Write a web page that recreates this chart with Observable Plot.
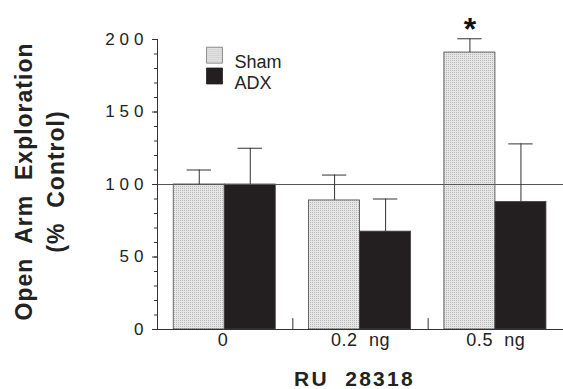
<!DOCTYPE html>
<html>
<head>
<meta charset="utf-8">
<script src="https://cdn.jsdelivr.net/npm/d3@7"></script>
<script src="https://cdn.jsdelivr.net/npm/@observablehq/plot@0.6"></script>
<style>
  html, body { margin: 0; padding: 0; background: #fff; }
  svg text { white-space: pre; }
</style>
</head>
<body>
<div id="chart"></div>
<script>
// ---- data ----
const doses = ["0", "0.2  ng", "0.5  ng"];
const groups = ["Sham", "ADX"];
const shamMean = [100, 89, 191];
const shamSem = [10, 17.5, 9.5];
const adxMean = [100, 67.5, 88];
const adxSem = [25, 22.5, 40];
const shamStar = ["", "", "*"];
const adxStar = ["", "", ""];
const yMajorTicks = [0, 50, 100, 150, 200];
const yMinorTicks = d3.range(0, 201, 10);
const controlLevel = [100];
const xTitle = "RU  28318";
const yTitle = "Open  Arm  Exploration\n(%  Control)";

// ---- layout constants (group-relative) ----
const groupPad = 0.12, barW = 0.377, capHalf = 0.09;
const fills = { Sham: "url(#stipple)", ADX: "#231f20" };
const FONT = "'Liberation Sans', Arial, Helvetica, sans-serif";

const rows = [];
doses.forEach((dose, i) => {
  [[shamMean, shamSem, shamStar], [adxMean, adxSem, adxStar]].forEach(([m, s, st], j) => {
    const x1 = i + groupPad + j * barW;
    rows.push({ dose, i, group: groups[j], mean: m[i], sem: s[i], star: st[i],
      x1, x2: x1 + barW, xc: x1 + barW / 2 });
  });
});

const plot = Plot.plot({
  width: 563, height: 389,
  marginLeft: 157, marginRight: 0, marginTop: 39, marginBottom: 60,
  x: { type: "linear", domain: [0, doses.length], axis: null, label: null },
  y: { domain: [0, 200], axis: null, label: null },
  style: { fontFamily: FONT, background: "#fff", color: "#222", overflow: "visible" },
  marks: [
    Plot.rectY(rows, { x1: "x1", x2: "x2", y1: 0, y2: "mean",
      fill: d => fills[d.group], stroke: "#444", strokeWidth: 0.8 }),
    Plot.ruleY(controlLevel, { x1: 0, x2: doses.length, stroke: "#555", strokeWidth: 1 }),
    Plot.ruleX(rows, { x: "xc", y1: "mean", y2: d => d.mean + d.sem, stroke: "#333", strokeWidth: 1 }),
    Plot.ruleY(rows, { y: d => d.mean + d.sem, x1: d => d.xc - capHalf, x2: d => d.xc + capHalf, stroke: "#333", strokeWidth: 1 }),
    Plot.text(rows.filter(d => d.star), { x: "xc", y: d => d.mean + d.sem, text: "star",
      lineAnchor: "bottom", dy: 1, fontSize: 32, fontWeight: "bold", fill: "#111" }),
    // axes lines
    Plot.ruleX([0], { y1: 0, y2: 200, stroke: "#333" }),
    Plot.ruleY([0], { x1: 0, x2: doses.length, stroke: "#333" }),
    Plot.ruleX(d3.range(1, doses.length + 1), { y1: 0, y2: 7.5, stroke: "#333" }),
    Plot.axisY({ ticks: yMinorTicks, tickSize: 3, tickFormat: () => "", stroke: "#333", label: null }),
    Plot.axisY({ ticks: yMajorTicks, tickSize: 5, tickPadding: 4, fontSize: 17, stroke: "#333",
      tickFormat: d => String(d), label: null }),
    Plot.axisX({ ticks: doses.map((d, i) => i + 0.5), tickSize: 0, tickPadding: 4, fontSize: 18,
      tickFormat: v => doses[Math.floor(v)], label: null }),
    Plot.text([xTitle], { frameAnchor: "bottom", textAnchor: "middle", dx: -6, dy: 56, lineAnchor: "bottom", fontSize: 21,
      fontWeight: "bold", fill: "#222" }),
    Plot.text([yTitle], { frameAnchor: "left", textAnchor: "middle", rotate: -90, dx: -120, dy: -3, lineHeight: 1.39,
      fontSize: 23, fontWeight: "bold", fill: "#222" }),
    // legend
    ...groups.map((g, j) => Plot.dot([g], { frameAnchor: "top-left", dx: 57, dy: 15.7 + j * 20.8,
      symbol: "square", r: 9, fill: fills[g], stroke: j === 0 ? "#777" : "#231f20", strokeWidth: 0.8 })),
    ...groups.map((g, j) => Plot.text([g], { frameAnchor: "top-left", dx: 77, dy: 16 + j * 20.8,
      textAnchor: "start", fontSize: 18, fill: "#222" }))
  ]
});

const svg = d3.select(plot);
const defs = svg.insert("defs", ":first-child");
const pat = defs.append("pattern").attr("id", "stipple").attr("patternUnits", "userSpaceOnUse")
  .attr("width", 2).attr("height", 2);
pat.append("rect").attr("width", 2).attr("height", 2).attr("fill", "#e6e6e6");
pat.append("rect").attr("width", 1).attr("height", 1).attr("fill", "#b8b8b8");

const byText = (pred, spacing) => svg.selectAll("text").filter(function () { return pred(this.textContent); })
  .attr("letter-spacing", spacing);
byText(t => yMajorTicks.map(String).includes(t), "5px");
byText(t => doses.slice(1).includes(t), "0.6px");
byText(t => t.includes("Exploration"), "1px");
byText(t => t === xTitle, "2.3px");

document.getElementById("chart").appendChild(plot);
</script>
</body>
</html>
